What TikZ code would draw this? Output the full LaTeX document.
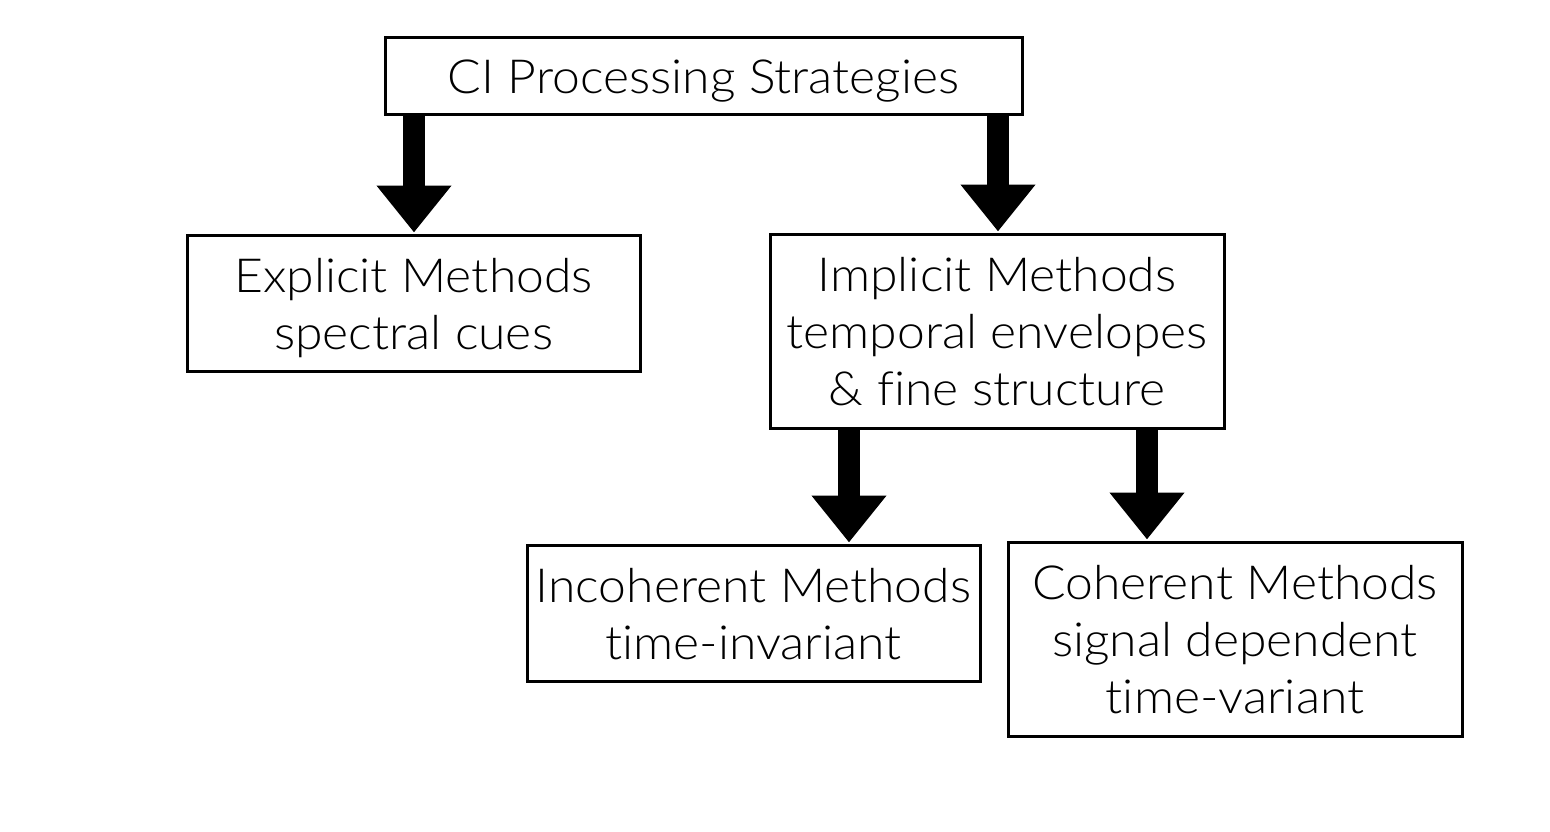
\documentclass[tikz,border=0pt]{standalone}
\usepackage{fontspec}
\IfFontExistsTF{Lato Light}{\setmainfont{Lato Light}[FakeStretch=1.06,Ligatures=NoCommon]}{\setmainfont{TeX Gyre Heros}}
\usetikzlibrary{arrows.meta,shadows}
\newcommand\lnstrut{\rule[-11pt]{0pt}{57pt}}
\begin{document}
\begin{tikzpicture}[x=1pt,y=-1pt,
  box/.style={draw=black,line width=3pt,fill=white,inner sep=0pt,align=center,
    font=\fontsize{47}{57}\selectfont,
    drop shadow={shadow xshift=1.5pt,shadow yshift=-1.5pt,opacity=0.3,fill=black}},
  bigarrow/.style={line width=22pt,-{Triangle[width=72pt,length=47pt]}}]
\useasboundingbox[fill=white] (0,0) rectangle (1550,832);
\node[box,minimum width=637pt,minimum height=77pt] (top) at (703.5,76.5) {\lnstrut CI Processing Strategies};
\node[box,minimum width=453pt,minimum height=136pt] (expl) at (413.5,303) {\lnstrut Explicit Methods\\\lnstrut spectral cues};
\node[box,minimum width=454pt,minimum height=194pt] (impl) at (997,331) {\lnstrut Implicit Methods\\\lnstrut temporal envelopes\\\lnstrut \& fine structure};
\node[box,minimum width=453pt,minimum height=136pt] (incoh) at (753.5,613) {\lnstrut Incoherent Methods\\\lnstrut time-invariant};
\node[box,minimum width=454pt,minimum height=194pt] (coh) at (1235,639) {\lnstrut Coherent Methods\\\lnstrut signal dependent\\\lnstrut time-variant};
\coordinate (a1) at (414,0);
\coordinate (a2) at (998,0);
\coordinate (a3) at (849,0);
\coordinate (a4) at (1147,0);
\draw[bigarrow] ([yshift=1.5pt]top.south -| a1) -- ([yshift=1pt]expl.north -| a1);
\draw[bigarrow] ([yshift=1.5pt]top.south -| a2) -- ([yshift=1pt]impl.north -| a2);
\draw[bigarrow] ([yshift=1.5pt]impl.south -| a3) -- ([yshift=1pt]incoh.north -| a3);
\draw[bigarrow] ([yshift=1.5pt]impl.south -| a4) -- ([yshift=1pt]coh.north -| a4);
\end{tikzpicture}
\end{document}
